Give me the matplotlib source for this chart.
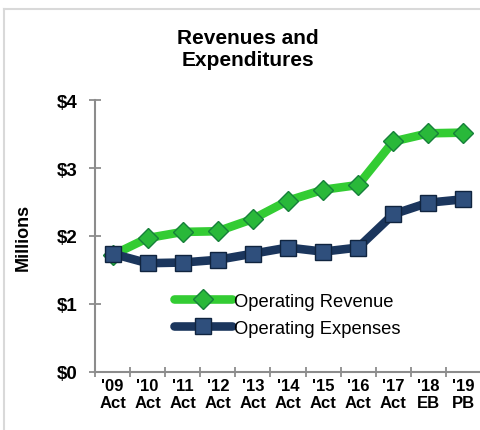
import matplotlib.pyplot as plt
from matplotlib.lines import Line2D

plt.rcParams['font.family'] = ['Liberation Sans', 'DejaVu Sans']

years = ["'09", "'10", "'11", "'12", "'13", "'14", "'15", "'16", "'17", "'18", "'19"]
kinds = ["Act", "Act", "Act", "Act", "Act", "Act", "Act", "Act", "Act", "EB", "PB"]
revenue = [1.72, 1.97, 2.06, 2.07, 2.25, 2.52, 2.68, 2.75, 3.39, 3.51, 3.52]
expenses = [1.74, 1.60, 1.61, 1.65, 1.74, 1.83, 1.77, 1.83, 2.32, 2.49, 2.54]

GREEN = '#33cc33'
NAVY = '#1b365d'
AXIS = '#8c8c8c'

fig = plt.figure(figsize=(4.81, 4.31), dpi=100)
ax = fig.add_axes([95 / 481, 1 - 373 / 431, 1 - 95 / 481, (373 - 101) / 431])

x = list(range(len(years)))
ax.plot(x, revenue, color=GREEN, lw=6.2, marker='D', ms=10,
        mfc='#29b83a', mec='#16803a', mew=1.0, solid_capstyle='round',
        label='Operating Revenue', zorder=3)
ax.plot(x, expenses, color=NAVY, lw=6.2, marker='s', ms=11,
        mfc='#2f4f7c', mec='#10243f', mew=1.0, solid_capstyle='round',
        label='Operating Expenses', zorder=3)

ax.set_xlim(-0.5, len(years) - 0.5)
ax.set_ylim(0, 4)
ax.set_yticks([0, 1, 2, 3, 4])
ax.set_yticklabels(['$0', '$1', '$2', '$3', '$4'], fontsize=13.5, fontweight='bold')
ax.set_xticks(x)
ax.set_xticklabels([f"{y}\n{k}" for y, k in zip(years, kinds)],
                   fontsize=12, fontweight='bold', linespacing=1.2)
ax.set_xticks([i - 0.5 for i in range(len(years) + 1)], minor=True)
ax.tick_params(axis='x', which='major', length=0, pad=4)
ax.tick_params(axis='x', which='minor', direction='inout', length=7,
               width=1.3, color=AXIS)
ax.tick_params(axis='y', direction='inout', length=9, width=1.3,
               color=AXIS, pad=8)

for side in ('top', 'right'):
    ax.spines[side].set_visible(False)
for side in ('left', 'bottom'):
    ax.spines[side].set_color(AXIS)
    ax.spines[side].set_linewidth(1.5)

ax.set_ylabel('Millions', fontsize=13, fontweight='bold', labelpad=18)

ax.legend(loc='center left', bbox_to_anchor=(0.205, 0.211), frameon=False,
          fontsize=13.2, handlelength=3.15, handletextpad=0.12,
          labelspacing=0.55, borderaxespad=0, borderpad=0)

fig.text(248 / 481, 1 - 49 / 431, 'Revenues and\nExpenditures', ha='center',
         va='center', fontsize=15, fontweight='bold', linespacing=1.2)

# light frame along the top and left edges
fig.add_artist(Line2D([4 / 481, 1], [1 - 10 / 431, 1 - 10 / 431],
                      transform=fig.transFigure, color='#d9d9d9', lw=1.5))
fig.add_artist(Line2D([4 / 481, 4 / 481], [0, 1 - 10 / 431],
                      transform=fig.transFigure, color='#d9d9d9', lw=1.5))

fig.savefig('out.png', dpi=100)
